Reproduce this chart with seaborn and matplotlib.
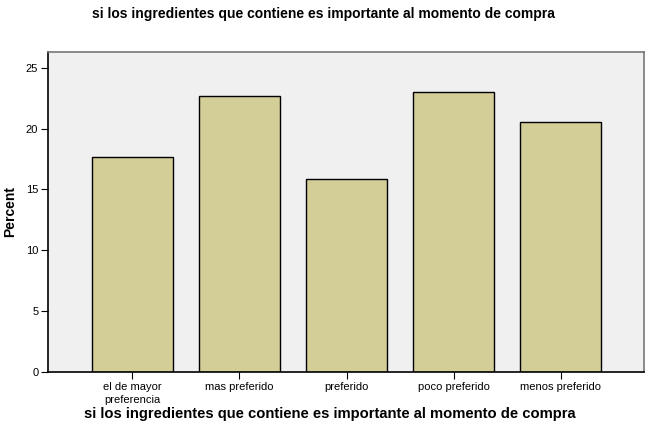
import matplotlib
matplotlib.use('Agg')
import matplotlib.pyplot as plt
import seaborn as sns
import pandas as pd

# Category labels and percent values
categories = ['el de mayor\npreferencia', 'mas preferido', 'preferido', 'poco preferido', 'menos preferido']
percents = [17.7, 22.7, 15.85, 23.0, 20.5]
y_ticks = [0, 5, 10, 15, 20, 25]

title = 'si los ingredientes que contiene es importante al momento de compra'

df = pd.DataFrame({'category': categories, 'percent': percents})

sns.set_style('white')
plt.rcParams['font.family'] = ['Liberation Sans', 'DejaVu Sans']
plt.rcParams['text.color'] = 'black'
plt.rcParams['axes.labelcolor'] = 'black'
plt.rcParams['xtick.color'] = 'black'
plt.rcParams['ytick.color'] = 'black'

fig = plt.figure(figsize=(6.46, 4.32), dpi=100)
ax = fig.add_axes([0.0743, 0.139, 0.9226, 0.741])
ax.set_facecolor('#F0F0F0')

sns.barplot(data=df, x='category', y='percent', color='#D3CE97', saturation=1,
            edgecolor='black', linewidth=1.0, width=0.755, ax=ax)

ax.set_xlim(-0.785, 4.775)
ax.set_ylim(0, 26.3)
ax.set_yticks(y_ticks)
ax.set_xticks(range(len(categories)))
ax.set_xticklabels(categories, linespacing=1.45)
ax.tick_params(axis='both', direction='out', length=5, width=0.8, color='black',
               labelcolor='black', labelsize=8, pad=2, left=True, bottom=True)
ax.set_xlabel(title, fontsize=10.6, fontweight='bold')
ax.xaxis.set_label_coords(0.473, -0.108)
ax.set_ylabel('Percent', fontsize=10, fontweight='bold', labelpad=6)
for s in ['left', 'bottom']:
    ax.spines[s].set_color('black')
    ax.spines[s].set_linewidth(1.2)
for s in ['top', 'right']:
    ax.spines[s].set_color('#777777')
    ax.spines[s].set_linewidth(1.2)

fig.text(0.5, 0.967, title, ha='center', va='center', fontsize=10, fontweight='bold')

fig.savefig('out.png', dpi=100)
